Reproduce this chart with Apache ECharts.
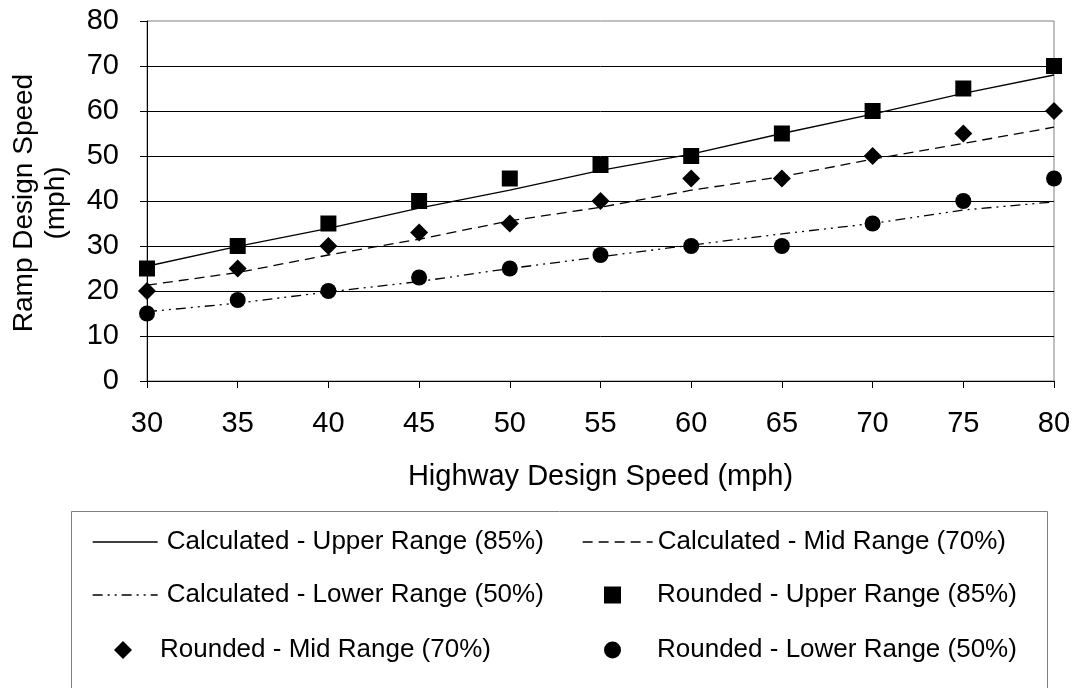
<!DOCTYPE html>
<html>
<head>
<meta charset="utf-8">
<script src="https://cdn.jsdelivr.net/npm/echarts@6/dist/echarts.min.js"></script>
<style>
html,body{margin:0;padding:0;background:#fff;}
#chart{width:1072px;height:688px;}
</style>
</head>
<body>
<div id="chart"></div>
<script>
const xValues = [30, 35, 40, 45, 50, 55, 60, 65, 70, 75, 80];
const calcUpper = [25.5, 29.9, 33.9, 38.4, 42.4, 46.8, 50.4, 55.0, 59.3, 63.9, 68.0];
const calcMid   = [21.3, 24.1, 28.0, 31.5, 35.6, 38.6, 42.4, 45.4, 49.3, 52.8, 56.4];
const calcLower = [15.4, 17.3, 19.8, 22.1, 25.0, 27.6, 30.2, 32.7, 35.0, 38.0, 39.8];
const roundUpper = [25, 30, 35, 40, 45, 48, 50, 55, 60, 65, 70];
const roundMid   = [20, 25, 30, 33, 35, 40, 45, 45, 50, 55, 60];
const roundLower = [15, 18, 20, 23, 25, 28, 30, 30, 35, 40, 45];
const seriesNames = [
  'Calculated - Upper Range (85%)',
  'Calculated - Mid Range (70%)',
  'Calculated - Lower Range (50%)',
  'Rounded - Upper Range (85%)',
  'Rounded - Mid Range (70%)',
  'Rounded - Lower Range (50%)'
];
const xTitle = 'Highway Design Speed (mph)';
const yTitle = 'Ramp Design Speed\n(mph)';

const pair = (ys) => xValues.map((x, i) => [x, ys[i]]);
const FONT = 'Liberation Sans, Arial, sans-serif';
const chart = echarts.init(document.getElementById('chart'), null, {renderer: 'canvas'});

function lineSeries(name, ys, type) {
  return {
    name, type: 'line', data: pair(ys), symbol: 'none', showSymbol: false,
    lineStyle: {color: '#000', width: 1.3, type: type}, itemStyle: {color: '#000'},
    z: 2, animation: false
  };
}
function scatterSeries(name, ys, symbol, size) {
  return {
    name, type: 'scatter', data: pair(ys), symbol, symbolSize: size,
    itemStyle: {color: '#000', opacity: 1}, z: 3, animation: false
  };
}
function lineLegend(name, left, top, w, padLeft) {
  return {
    data: [name], left, top, orient: 'horizontal', padding: 0,
    itemWidth: w, itemHeight: 14, itemGap: 0,
    itemStyle: {opacity: 0},
    lineStyle: {color: '#000', width: 1.3, opacity: 1},
    textStyle: {fontFamily: FONT, fontSize: 26, color: '#000', padding: [0, 0, 0, padLeft]},
    selectedMode: false
  };
}
function markLegend(name, left, top, s, padLeft) {
  return {
    data: [name], left, top, orient: 'horizontal', padding: 0,
    itemWidth: s, itemHeight: s, itemGap: 0,
    itemStyle: {color: '#000', opacity: 1},
    textStyle: {fontFamily: FONT, fontSize: 26, color: '#000', padding: [0, 0, 0, padLeft]},
    selectedMode: false
  };
}

const option = {
  backgroundColor: '#fff',
  animation: false,
  grid: {left: 147, right: 18, top: 21, bottom: 307, containLabel: false, outerBoundsMode: 'none',
         show: true, borderColor: '#808080', borderWidth: 1},
  xAxis: {
    type: 'value', min: 30, max: 80, interval: 5,
    name: xTitle, nameLocation: 'middle', nameGap: 81,
    nameTextStyle: {fontFamily: FONT, fontSize: 29, color: '#000'},
    axisLine: {lineStyle: {color: '#000'}},
    axisTick: {show: true, length: 7, lineStyle: {color: '#000'}},
    axisLabel: {fontFamily: FONT, fontSize: 29, color: '#000', margin: 28},
    splitLine: {show: false}
  },
  yAxis: {
    type: 'value', min: 0, max: 80, interval: 10,
    axisLine: {show: true, lineStyle: {color: '#000'}},
    axisTick: {show: true, length: 7, lineStyle: {color: '#000'}},
    axisLabel: {fontFamily: FONT, fontSize: 29, color: '#000', margin: 28},
    splitLine: {show: true, showMaxLine: false, lineStyle: {color: '#000', width: 1}}
  },
  legend: [
    lineLegend(seriesNames[0], 92, 529, 65, 4),
    lineLegend(seriesNames[2], 92, 582, 65, 4),
    markLegend(seriesNames[4], 114, 637, 18, 23),
    lineLegend(seriesNames[1], 582, 529, 70, 0),
    markLegend(seriesNames[3], 604, 582, 17, 31),
    markLegend(seriesNames[5], 604, 637, 17, 31)
  ],
  graphic: [{
    type: 'rect', shape: {x: 71.5, y: 511.5, width: 976, height: 190},
    style: {fill: 'none', stroke: '#808080', lineWidth: 1}, z: -1, silent: true
  }, {
    type: 'text', x: 40, y: 203, rotation: Math.PI / 2, silent: true,
    style: {text: yTitle, fontFamily: FONT, fontSize: 28, fill: '#000',
            align: 'center', verticalAlign: 'middle', lineHeight: 32}
  }],
  series: [
    lineSeries(seriesNames[0], calcUpper, 'solid'),
    lineSeries(seriesNames[1], calcMid, [10, 6]),
    lineSeries(seriesNames[2], calcLower, [10, 5, 2, 5, 2, 5]),
    scatterSeries(seriesNames[3], roundUpper, 'rect', 16),
    scatterSeries(seriesNames[4], roundMid, 'diamond', 18),
    scatterSeries(seriesNames[5], roundLower, 'circle', 16)
  ]
};
chart.setOption(option);
</script>
</body>
</html>
